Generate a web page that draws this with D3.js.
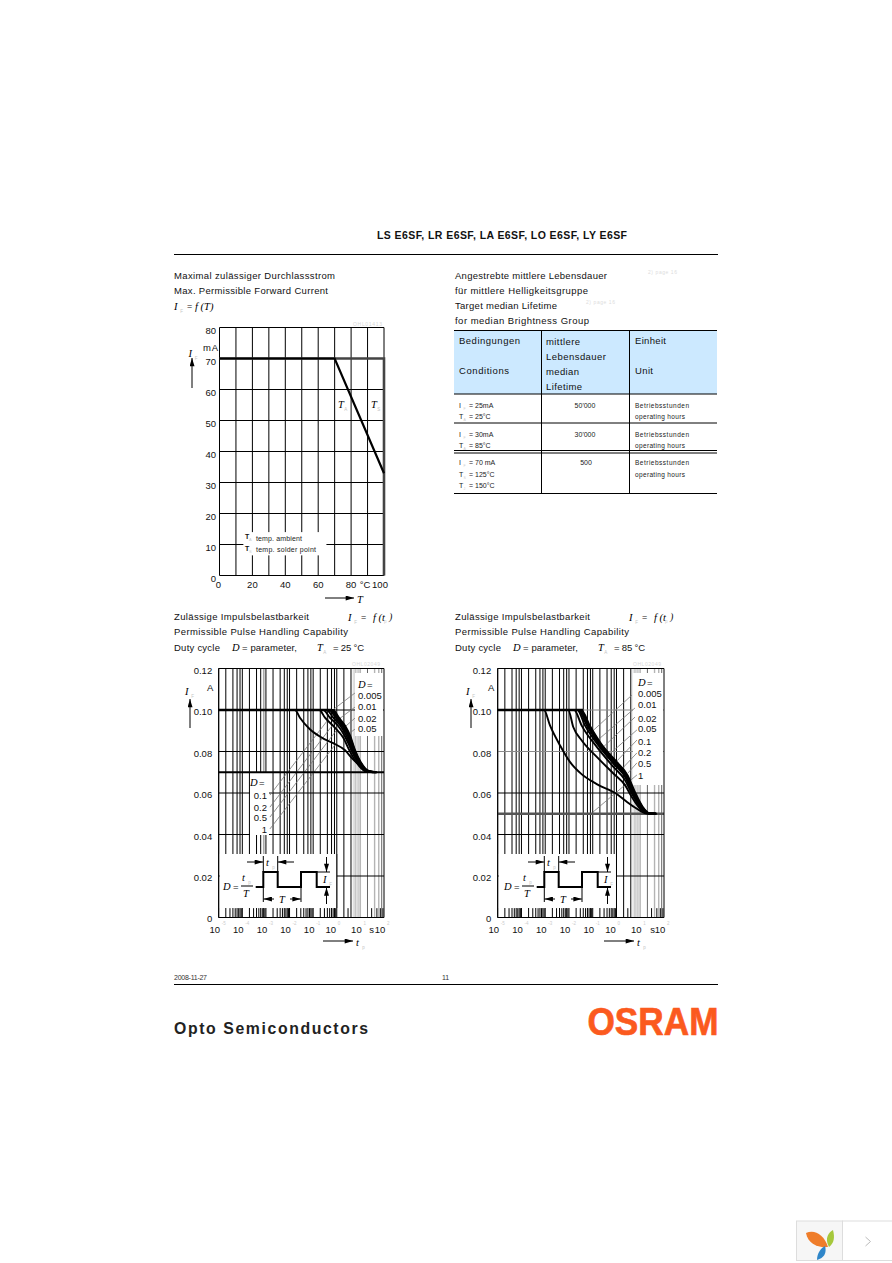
<!DOCTYPE html>
<html><head><meta charset="utf-8">
<script src="https://cdn.jsdelivr.net/npm/d3@7/dist/d3.min.js"></script>
<style>
html,body{margin:0;padding:0;background:#fff}
svg{display:block}
text{font-family:"Liberation Sans",Arial,sans-serif;fill:#111}
.sym{font-family:"Liberation Serif",serif;font-style:italic}
</style></head><body><svg id="c" width="892" height="1263"></svg>
<script>
// ---------- data ----------
const forwardTicksX = [0,20,40,60,80,100];
const forwardTicksY = [0,10,20,30,40,50,60,70,80];
const forwardGridX = [0,10,20,30,40,50,60,70,80,90,100];
const ambientCurve = [[0,70],[70,70],[100,33]];
const solderCurve = [[0,70],[100,70],[100,0]];

const pulseTicksY = [0,0.02,0.04,0.06,0.08,0.10,0.12];
const pulseDecades = [-5,-4,-3,-2,-1,0,1,2];
const gridMantissas = [2,4,6,8];
const tickMantissas = [3,5,7,9];
const dutyUpper = ["0.005","0.01","0.02","0.05"];
const dutyLower = ["0.1","0.2","0.5","1"];

// [log10(t), I], D = 1, 0.5, 0.2, 0.1, 0.05, 0.02, 0.01, 0.005
const p25_D1    = [[-5,.10],[-1.77,.10],[-1.56,.0963],[-1.14,.0907],[-.64,.0867],[-.15,.0840],[.34,.0807],[.69,.0762],[1.05,.0727],[1.40,.0701],[1.68,.07]];
const p25_D05   = [[-5,.10],[-.74,.10],[-.50,.0963],[-.08,.0915],[.27,.0867],[.55,.0802],[.84,.0746],[1.19,.0706],[1.54,.07]];
const p25_D02   = [[-5,.10],[-.57,.10],[-.29,.0963],[.06,.0923],[.34,.0875],[.60,.0811],[.88,.0750],[1.23,.0706],[1.57,.07]];
const p25_D01   = [[-5,.10],[-.43,.10],[-.15,.0963],[.16,.0923],[.41,.0875],[.64,.0811],[.91,.0750],[1.26,.0706],[1.60,.07]];
const p25_D005  = [[-5,.10],[-.32,.10],[-.05,.0963],[.23,.0923],[.47,.0875],[.68,.0811],[.94,.0750],[1.29,.0706],[1.63,.07]];
const p25_D002  = [[-5,.10],[-.25,.10],[.02,.0963],[.29,.0923],[.51,.0875],[.71,.0811],[.96,.0750],[1.32,.0706],[1.66,.07]];
const p25_D001  = [[-5,.10],[-.20,.10],[.06,.0963],[.33,.0923],[.54,.0875],[.74,.0811],[.99,.0750],[1.34,.0706],[1.68,.07]];
const p25_D0005 = [[-5,.10],[-.16,.10],[.09,.0963],[.36,.0923],[.57,.0875],[.76,.0811],[1.01,.0750],[1.36,.0706],[1.70,.07]];

const p85_D1    = [[-5,.10],[-3.05,.10],[-2.80,.0926],[-2.38,.0830],[-1.96,.0750],[-1.47,.0691],[-.83,.0643],[.01,.0595],[.43,.0558],[.85,.0525],[1.27,.0501],[1.62,.05]];
const p85_D05   = [[-5,.10],[-2.03,.10],[-1.82,.0918],[-1.47,.0854],[-.83,.0774],[-.13,.0694],[.36,.0638],[.64,.0582],[.99,.0525],[1.34,.0501],[1.65,.05]];
const p85_D02   = [[-5,.10],[-1.78,.10],[-1.47,.0926],[-.83,.0822],[-.13,.0726],[.36,.0662],[.64,.0598],[.99,.0534],[1.34,.0501],[1.65,.05]];
const p85_D01   = [[-5,.10],[-1.65,.10],[-1.33,.0926],[-.77,.0830],[-.13,.0742],[.40,.0670],[.68,.0598],[1.02,.0534],[1.34,.0501],[1.65,.05]];
const p85_D005  = [[-5,.10],[-1.61,.10],[-1.23,.0922],[-.66,.0822],[-.11,.0745],[.40,.0678],[.69,.0602],[1.03,.0534],[1.36,.0501],[1.66,.05]];
const p85_D002  = [[-5,.10],[-1.55,.10],[-1.17,.0922],[-.61,.0822],[-.06,.0747],[.43,.0681],[.72,.0605],[1.06,.0534],[1.38,.0501],[1.67,.05]];
const p85_D001  = [[-5,.10],[-1.52,.10],[-1.14,.0922],[-.58,.0822],[-.03,.0749],[.45,.0683],[.74,.0607],[1.08,.0534],[1.40,.0501],[1.68,.05]];
const p85_D0005 = [[-5,.10],[-1.49,.10],[-1.11,.0922],[-.55,.0822],[0,.0751],[.47,.0685],[.76,.0609],[1.10,.0534],[1.42,.0501],[1.69,.05]];

// label leaders: [log10 t, I, log10 t, I]
const leaders25 = [[.77,.1082,-.29,.099],[.77,.1014,.04,.0952],[.77,.0961,.34,.0918],[.77,.0908,.55,.0889],
                   [-2.83,.059,-.12,.099],[-2.83,.0532,.05,.0961],[-2.83,.0484,0,.0904],[-2.83,.0427,-.08,.0831]];
const leaders85 = [[.65,.1072,-1.04,.0895],[.78,.101,-.87,.0847],[.78,.0966,-.69,.0807],[.86,.0904,-.41,.0775],
                   [.86,.0855,-.06,.0745],[.86,.0793,.26,.072],[.86,.0745,.48,.0696],[.86,.0687,-.99,.0508]];

const tableHeadA = ["Bedingungen","Conditions"];
const tableHeadB = ["mittlere","Lebensdauer","median","Lifetime"];
const tableHeadC = ["Einheit","Unit"];
const lifetimes = ["50'000","30'000","500"];

// ---------- helpers ----------
const svg = d3.select("#c");
const defs = svg.append("defs");
defs.append("marker").attr("id","ah").attr("viewBox","0 0 10 6").attr("refX",10).attr("refY",3)
  .attr("markerWidth",9).attr("markerHeight",5).attr("markerUnits","userSpaceOnUse").attr("orient","auto-start-reverse")
  .append("path").attr("d","M0,0L10,3L0,6Z").attr("fill","#000");

function T(g,x,y,s,o={}){
  const t=g.append("text").attr("x",x).attr("y",y).text(s)
    .attr("font-size",o.size||9.5).style("fill",o.fill||"#111");
  if(o.len){t.attr("textLength",o.len).attr("lengthAdjust",o.glyph?"spacingAndGlyphs":"spacing");}
  if(o.anchor)t.attr("text-anchor",o.anchor);
  if(o.weight)t.attr("font-weight",o.weight);
  if(o.cls)t.attr("class",o.cls);
  return t;
}
function L(g,x1,y1,x2,y2,c="#000",w=1){
  return g.append("line").attr("x1",x1).attr("y1",y1).attr("x2",x2).attr("y2",y2).attr("stroke",c).attr("stroke-width",w);
}
function arrow(g,x1,y1,x2,y2,w=1){return L(g,x1,y1,x2,y2,"#000",w).attr("marker-end","url(#ah)");}
function sym(g,x,y,s,sub,size=10.5){
  T(g,x,y,s,{cls:"sym",size,fill:"#000"});
  if(sub)T(g,x+size*0.6,y+2.5,sub,{size:4.5,fill:"#c4c4c4"});
}

// ---------- page furniture ----------
T(svg,377,239,"LS E6SF, LR E6SF, LA E6SF, LO E6SF, LY E6SF",{size:10.5,weight:"bold",len:250,fill:"#111"});
L(svg,174,254.5,718,254.5);
L(svg,174,984.5,718,984.5);
T(svg,174,980,"2008-11-27",{size:7,len:33,fill:"#333"});
T(svg,442,980,"11",{size:7,fill:"#333"});
T(svg,174,1034,"Opto Semiconductors",{size:15.8,weight:"bold",len:194,fill:"#222"});
T(svg,587.5,1034.5,"OSRAM",{size:39,weight:"bold",len:131,glyph:true,fill:"#fb5a1e"}).attr("stroke","#fb5a1e").attr("stroke-width",0.7);

// ---------- forward current chart ----------
T(svg,174,279,"Maximal zulässiger Durchlassstrom",{len:161});
T(svg,174,294,"Max. Permissible Forward Current",{len:154});
sym(svg,174,310,"I","F");
T(svg,187,309,"=",{size:9});
sym(svg,195,310,"f (T)",null);

const fx=d3.scaleLinear().domain([0,100]).range([219.5,384]);
const fy=d3.scaleLinear().domain([0,80]).range([575.5,327.5]);
const fg=svg.append("g");
forwardGridX.forEach(v=>L(fg,fx(v),fy(0),fx(v),fy(80)));
forwardTicksY.forEach(v=>L(fg,fx(0),fy(v),fx(100),fy(v)));
fg.append("rect").attr("x",fx(14.5)).attr("y",fy(14)).attr("width",fx(65)-fx(14.5)).attr("height",fy(6.5)-fy(14)).attr("fill","#fff");
const fline=d3.line().x(d=>fx(d[0])).y(d=>fy(d[1]));
fg.append("path").attr("d",fline(solderCurve)).attr("fill","none").attr("stroke","#444").attr("stroke-width",2.6);
fg.append("path").attr("d",fline(ambientCurve)).attr("fill","none").attr("stroke","#000").attr("stroke-width",2.2);
forwardTicksY.forEach(v=>T(svg,216,fy(v)+6,v,{anchor:"end"}));
forwardTicksX.forEach(v=>T(svg,v==100?fx(v)-4:fx(v)-(v==0?1:0),588,v,{anchor:"middle"}));
T(svg,365,588,"°C",{anchor:"middle"});
T(svg,203,351,"mA",{len:15});
sym(svg,188.5,357,"I","F");
arrow(svg,192,388,192,358);
arrow(svg,325,598,354,598);
sym(svg,357,603,"T",null);
sym(svg,338,408,"T","A");
sym(svg,371,408,"T","S");
T(svg,245,539,"T",{size:7,weight:"bold"});T(svg,249,541,"A",{size:4,fill:"#ccc"});
T(svg,245,551,"T",{size:7,weight:"bold"});T(svg,249,553,"S",{size:4,fill:"#ccc"});
T(svg,256,541,"temp. ambient",{size:7,len:46,fill:"#222"});
T(svg,256,552,"temp. solder point",{size:7,len:60,fill:"#222"});
T(svg,353,326,"OHL01413",{size:5,len:29,fill:"#d8d8d8"});

// ---------- lifetime table ----------
T(svg,455,279,"Angestrebte mittlere Lebensdauer",{len:152});
T(svg,455,294,"für mittlere Helligkeitsgruppe",{len:133});
T(svg,455,309,"Target median Lifetime",{len:102});
T(svg,455,324,"for median Brightness Group",{len:134});
T(svg,648,274,"2) page 16",{size:5,len:29,fill:"#ddd"});
T(svg,586,304,"2) page 16",{size:5,len:29,fill:"#ddd"});
svg.append("rect").attr("x",454).attr("y",331).attr("width",263).attr("height",63).attr("fill","#cce9ff");
[330.5,394,423,450.5,453,493.5].forEach(y=>L(svg,454,y,717,y));
[541.5,629.5].forEach(x=>L(svg,x,331,x,493));
[344,374].forEach((y,i)=>T(svg,459,y,tableHeadA[i],{len:[61,50][i]}));
[345,360,375,390].forEach((y,i)=>T(svg,546,y,tableHeadB[i],{len:[34,60,33,36][i]}));
[344,374].forEach((y,i)=>T(svg,635,y,tableHeadC[i],{len:[31,18][i]}));
function cond(y,s,sub,val){
  T(svg,459,y,s,{size:7,fill:"#222"});
  T(svg,463.5,y+2,sub,{size:3.5,fill:"#ccc"});
  T(svg,469,y,"= "+val,{size:7,fill:"#222"});
}
cond(408,"I","F","25mA");cond(419,"T","A","25°C");
cond(437,"I","F","30mA");cond(448,"T","A","85°C");
cond(465,"I","F","70 mA");cond(477,"T","S","125°C");cond(488,"T","J","150°C");
[408,437,465].forEach((y,i)=>T(svg,i==2?586:585,y,lifetimes[i],{anchor:"middle",size:7,fill:"#222"}));
[[408,419],[437,448],[465,477]].forEach(p=>{
  T(svg,635,p[0],"Betriebsstunden",{size:6.5,len:54,fill:"#222"});
  T(svg,635,p[1],"operating hours",{size:6.5,len:50,fill:"#222"});
});

// ---------- pulse charts ----------
function pulseChart(o){
  const x=d3.scaleLog().domain([1e-5,100]).range([o.x0,o.x1]);
  const y=d3.scaleLinear().domain([0,0.12]).range([917.5,668.5]);
  const g=svg.append("g");
  const dx=o.dx;
  T(svg,174+dx,620,"Zulässige Impulsbelastbarkeit",{len:135});
  T(svg,174+dx,635,"Permissible Pulse Handling Capability",{len:174});
  T(svg,174+dx,651,"Duty cycle",{len:46});
  sym(svg,232+dx,651,"D",null);
  T(svg,242+dx,651,"= parameter,",{len:55});
  sym(svg,317+dx,651,"T","A");
  T(svg,333+dx,651,"= "+o.temp+" °C",{len:31});
  sym(svg,348+dx,621,"I","F");
  T(svg,361+dx,620,"=",{size:9});
  sym(svg,373+dx,621,"f (t",null);
  T(svg,384+dx,623,"p",{size:4.5,fill:"#ccc"});
  T(svg,389+dx,620,")",{size:10,cls:"sym"});

  // vertical grid
  const shade=t=>{
    if(t>=5&&t<=10) return ["#b8b8b8",1.3];
    if(t==20) return ["#666",1];
    if(t==40||t==60) return ["#b4b4b4",1.4];
    if(t==80) return ["#666",1];
    return ["#000",1];
  };
  pulseDecades.slice(0,7).forEach(dec=>{
    const base=Math.pow(10,dec);
    [1].concat(gridMantissas).forEach(m=>{
      const t=base*m, s=shade(t);
      L(g,x(t),y(0),x(t),y(0.12),s[0],s[1]);
    });
    tickMantissas.forEach(m=>{
      const t=base*m;
      if(dec===0&&m>=5) L(g,x(t),y(0),x(t),y(0.12),"#dcdcdc",1.2);
      else L(g,x(t),y(0),x(t),y(0.0045));
    });
  });
  if(o.grayMilli) L(g,x(8e-4),y(0.03),x(8e-4),y(0.12),"#aaa",1.4);
  // horizontal grid
  pulseTicksY.forEach(v=>{
    const c=(o.grayTicks.includes(v))?"#8a8a8a":"#000";
    L(g,x(1e-5),y(v),x(100),y(v),c);
  });
  // white masks
  const mask=(a,b,c,d)=>g.append("rect").attr("x",a).attr("y",b).attr("width",c-a).attr("height",d-b).attr("fill","#fff");
  mask(x(1e-5)+1,854,x(1),908);
  mask(o.box[0],673,x(100)-1,o.box[1]);
  if(o.boxL) mask(o.boxL[0],o.boxL[1],o.boxL[2],o.boxL[3]);
  L(g,x(1),854,x(1),908);
  // leaders
  const xl=v=>x(Math.pow(10,v));
  o.leaders.forEach(l=>L(g,xl(l[0]),y(l[1]),xl(l[2]),y(l[3]),"#777",0.8));
  // level line
  L(g,x(1e-5),y(o.level),x(100),y(o.level),o.levelColor,o.levelW);
  // curves
  const line=d3.line().x(d=>xl(d[0])).y(d=>y(d[1])).curve(d3.curveMonotoneX);
  o.curves.forEach(c=>g.append("path").attr("d",line(c)).attr("fill","none").attr("stroke","#000").attr("stroke-width",1.9));
  // frame
  L(g,x(1e-5),y(0),x(1e-5),y(0.12));L(g,x(100),y(0),x(100),y(0.12));L(g,x(1e-5),y(0),x(100),y(0),"#000",1.2);
  L(g,x(1e-5),y(0.12),x(100),y(0.12));
  L(g,x(1e-5),y(0.1),x(o.plateauEnd),y(0.1),"#000",2.4);
  // tick labels
  const fmt=d3.format(".2f");
  pulseTicksY.forEach(v=>T(svg,o.x0-6.5,y(v)+(v==0?4:5),v==0?"0":fmt(v),{anchor:"end"}));
  pulseDecades.forEach((d,i)=>{
    const px=x(Math.pow(10,d))-4+(i==5?-2:0);
    T(svg,px,933,"10",{anchor:"middle"});
    T(svg,px+7,925,String(d),{size:4.5,fill:"#ccc"});
  });
  T(svg,371.5+dx,933,"s",{anchor:"middle"});
  T(svg,207+dx,691,"A");
  sym(svg,185+dx,695,"I","F");
  arrow(svg,190+dx,728,190+dx,699);
  arrow(svg,323+dx,941,353+dx,941);
  sym(svg,356+dx,946,"t","p");
  T(svg,352+dx,666,"OHL02049",{size:5,len:28,fill:"#d8d8d8"});
  // duty labels
  const lx=o.labelX;
  sym(svg,lx,o.labelY[0],"D",null);T(svg,lx+9,o.labelY[0],"=");
  dutyUpper.forEach((s,i)=>T(svg,lx,o.labelY[i+1],s));
  if(o.lowerRight){
    dutyLower.forEach((s,i)=>T(svg,lx,o.labelY[i+5],s));
  } else {
    sym(svg,250,786,"D",null);T(svg,259,786,"=");
    dutyLower.forEach((s,i)=>T(svg,267,[799,811,821,833][i],s,{anchor:"end"}));
  }
  // inset
  const n=svg.append("g").attr("transform",`translate(${dx},0)`);
  sym(n,223,890,"D",null);T(n,233,890,"=");
  sym(n,242,881,"t","p");L(n,241,886,253,886);sym(n,243,897,"T",null);
  n.append("path").attr("d","M255.7,887H263.3V872H277.7V887H301V872H316.7V887H330").attr("fill","none").attr("stroke","#000").attr("stroke-width",2);
  L(n,263.3,856,263.3,872);L(n,277.7,856,277.7,872);
  arrow(n,247,862,263,862);arrow(n,294,862,278,862);
  sym(n,266,866,"t","p");
  L(n,263.3,887,263.3,902);L(n,301,887,301,902);
  arrow(n,274,899,263.6,899);arrow(n,290,899,300.7,899);
  sym(n,279,903,"T",null);
  L(n,316.7,872,330,872);
  arrow(n,326.5,857,326.5,872);arrow(n,326.5,904,326.5,887.5);
  sym(n,323,883,"I","F");
}
pulseChart({dx:0,x0:218.7,x1:384,temp:"25",level:.07,levelColor:"#000",levelW:2.2,plateauEnd:0.6,grayMilli:true,grayTicks:[],
  box:[355,736],boxL:[250,772,269,835],labelX:358,labelY:[688,699,710,722,732],
  curves:[p25_D1,p25_D05,p25_D02,p25_D01,p25_D005,p25_D002,p25_D001,p25_D0005],
  leaders:leaders25});
pulseChart({dx:281,x0:497.7,x1:664,temp:"85",level:.05,levelColor:"#555",levelW:2.4,plateauEnd:0.04,grayMilli:false,grayTicks:[0.08,0.10],
  box:[633,785],labelX:638,labelY:[686,697,708,722,732,745,756,767,779],lowerRight:true,
  curves:[p85_D1,p85_D05,p85_D02,p85_D01,p85_D005,p85_D002,p85_D001,p85_D0005],
  leaders:leaders85});

// ---------- viewer widget ----------
const w=svg.append("g");
w.append("rect").attr("x",796.5).attr("y",1221).attr("width",46).attr("height",39.5).attr("fill","#f6f6f6").attr("stroke","#ddd");
w.append("rect").attr("x",842.5).attr("y",1221).attr("width",50).attr("height",39.5).attr("fill","#fff").attr("stroke","#ddd");
w.append("path").attr("d","M806,1233C814,1229 824,1234 828,1247C818,1248 808,1244 806,1233Z").attr("fill","#ef7d2a");
w.append("path").attr("d","M829,1247C824,1238 829,1232 833,1230C835,1238 834,1243 829,1247Z").attr("fill","#a6c83c");
w.append("path").attr("d","M817,1260C817,1253 821,1248 825,1246C827,1253 824,1258 817,1260Z").attr("fill","#2f86c9");
w.append("path").attr("d","M865.5,1237L870.5,1241.5L865.5,1246").attr("fill","none").attr("stroke","#bbb");
</script></body></html>
